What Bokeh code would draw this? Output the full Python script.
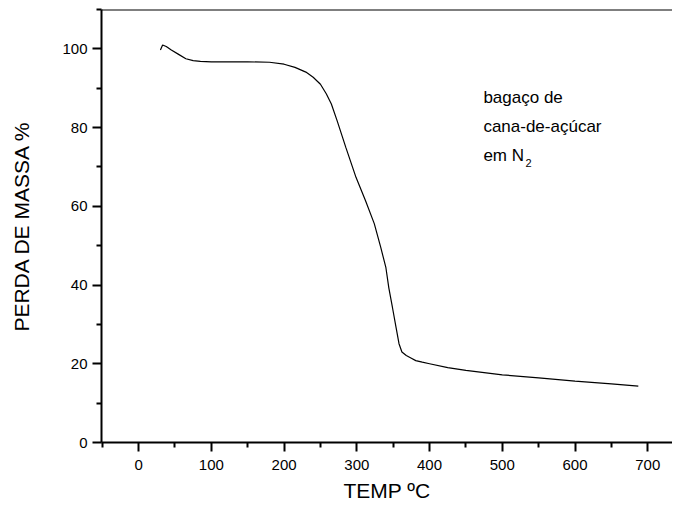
from bokeh.plotting import figure
from bokeh.models import FixedTicker, Range1d, Span, Label
from bokeh.embed import file_html
from bokeh.resources import INLINE

temp = [30, 33, 38, 45, 55, 65, 75, 85, 100, 120, 150, 180, 200, 215, 230, 240,
        250, 258, 265, 273, 285, 299, 312, 324, 333, 340, 344, 349, 354, 358, 362,
        368, 375, 381, 390, 400, 425, 450, 500, 550, 600, 650, 687]
mass = [99.7, 101.0, 100.6, 99.7, 98.6, 97.5, 97.0, 96.8, 96.7, 96.7, 96.7, 96.6,
        96.1, 95.3, 94.1, 92.8, 91.0, 88.6, 86.0, 81.7, 74.9, 67.3, 61.4, 55.6,
        49.5, 44.4, 39.3, 34.3, 29.2, 25.1, 23.0, 22.1, 21.4, 20.8, 20.4, 20.0,
        19.0, 18.3, 17.2, 16.4, 15.6, 14.9, 14.3]
x_ticks = [0, 100, 200, 300, 400, 500, 600, 700]
x_minor = [-50, 50, 150, 250, 350, 450, 550, 650, 750]
y_ticks = [0, 20, 40, 60, 80, 100]
y_minor = [10, 30, 50, 70, 90, 110]
x_title = "TEMP ºC"
y_title = "PERDA DE MASSA %"
note_lines = ["bagaço de", "cana-de-açúcar", "em N"]
note_sub = "2"

FONT = "Liberation Sans"

p = figure(width=672, height=505, output_backend="svg", toolbar_location=None,
           x_range=Range1d(-51, 734), y_range=Range1d(0, 110),
           min_border_left=101, min_border_top=9, min_border_right=0,
           min_border_bottom=63)
p.outline_line_color = None
p.grid.visible = False
p.background_fill_color = "white"
p.border_fill_color = "white"

p.line(temp, mass, line_color="black", line_width=1.2)

for ax in (p.xaxis[0], p.yaxis[0]):
    ax.axis_line_width = 2
    ax.axis_line_color = "black"
    ax.major_tick_line_width = 2
    ax.minor_tick_line_width = 2
    ax.major_tick_in = 0
    ax.major_tick_out = 9
    ax.minor_tick_in = 0
    ax.minor_tick_out = 5
    ax.major_label_text_font = FONT
    ax.major_label_text_font_size = "15px"
    ax.major_label_text_color = "black"
    ax.axis_label_text_font = FONT
    ax.axis_label_text_font_size = "21px"
    ax.axis_label_text_font_style = "normal"
    ax.axis_label_text_color = "black"

p.xaxis.ticker = FixedTicker(ticks=x_ticks, minor_ticks=x_minor)
p.yaxis.ticker = FixedTicker(ticks=y_ticks, minor_ticks=y_minor)
p.xaxis.axis_label = x_title
p.yaxis.axis_label = y_title
p.xaxis.major_label_standoff = 8
p.yaxis.major_label_standoff = 5
p.xaxis.axis_label_standoff = 6
p.yaxis.axis_label_standoff = 26

top = Span(location=110, dimension="width", line_color="black", line_width=2)
p.add_layout(top)

ys = [87.6, 80.4, 73.0]
for t, yy in zip(note_lines, ys):
    p.add_layout(Label(x=474, y=yy, text=t, text_font=FONT, text_font_size="17px",
                       text_color="black", text_baseline="middle"))
p.add_layout(Label(x=474, y=ys[2], x_offset=42, y_offset=-8, text=note_sub,
                   text_font=FONT, text_font_size="11px", text_color="black",
                   text_baseline="middle"))

open("out.html", "w").write(file_html(p, INLINE))
